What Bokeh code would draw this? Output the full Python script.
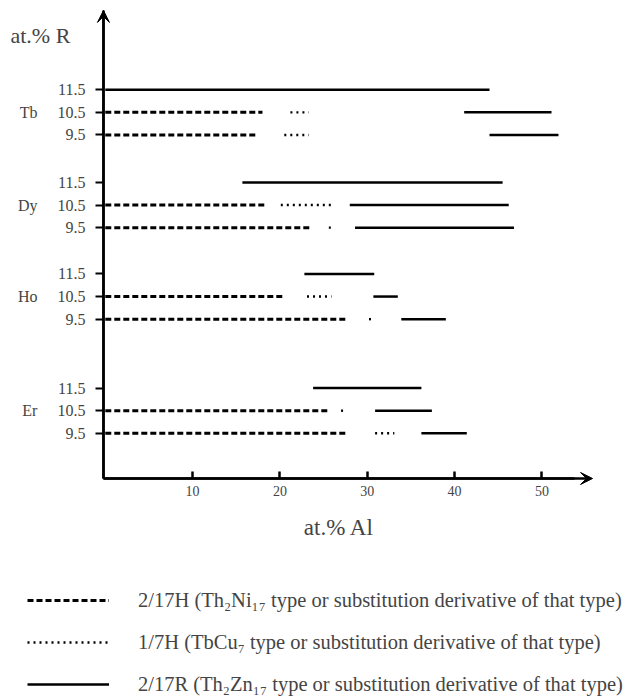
from bokeh.embed import file_html
from bokeh.models import (Arrow, ColumnDataSource, FixedTicker, Label, Legend,
                          LegendItem, LinearAxis, Range1d, VeeHead)
from bokeh.plotting import figure
from bokeh.resources import INLINE

FONT = "Liberation Serif"

# Rare earths and nominal R contents (at.%)
alloys = ["Tb", "Dy", "Ho", "Er"]
r_levels = [11.5, 10.5, 9.5]
r_labels = ["11.5", "10.5", "9.5"]
al_ticks = [10, 20, 30, 40, 50]

# 2/17H (Th2Ni17 type) homogeneity ranges in at.% Al
h217_alloy = ["Tb", "Tb", "Dy", "Dy", "Ho", "Ho", "Er", "Er"]
h217_r = [10.5, 9.5, 10.5, 9.5, 10.5, 9.5, 10.5, 9.5]
h217_from = [0, 0, 0, 0, 0, 0, 0, 0]
h217_to = [18.0, 17.4, 18.4, 23.5, 20.5, 27.5, 25.7, 27.6]

# 1/7H (TbCu7 type) ranges
h17_alloy = ["Tb", "Tb", "Dy", "Dy", "Ho", "Ho", "Er", "Er"]
h17_r = [10.5, 9.5, 10.5, 9.5, 10.5, 9.5, 10.5, 9.5]
h17_from = [21.2, 20.5, 20.1, 25.6, 23.1, 30.2, 27.0, 30.9]
h17_to = [23.3, 23.3, 26.0, 26.2, 25.9, 30.8, 27.6, 33.1]

# 2/17R (Th2Zn17 type) ranges
r217_alloy = ["Tb", "Tb", "Tb", "Dy", "Dy", "Dy", "Ho", "Ho", "Ho", "Er", "Er", "Er"]
r217_r = [11.5, 10.5, 9.5, 11.5, 10.5, 9.5, 11.5, 10.5, 9.5, 11.5, 10.5, 9.5]
r217_from = [0, 41.1, 44.0, 15.7, 28.0, 28.6, 22.8, 30.7, 33.9, 23.8, 30.9, 36.2]
r217_to = [44.0, 51.1, 51.9, 45.5, 46.2, 46.8, 30.8, 33.5, 39.0, 36.2, 37.4, 41.4]

legend_texts = [
    "2/17H (Th\u2082Ni\u2081\u2087 type or substitution derivative of that type)",
    "1/7H (TbCu\u2087 type or substitution derivative of that type)",
    "2/17R (Th\u2082Zn\u2081\u2087 type or substitution derivative of that type)",
]

# vertical layout: position of the 9.5 at.% R row of each band
band_base = {"Tb": 15.2, "Dy": 11.1, "Ho": 7.05, "Er": 2.0}


def row_y(alloy, r):
    return round(band_base[alloy] + (r - 9.5), 3)


def seg_source(alloy, r, lo, hi):
    ys = [row_y(a, c) for a, c in zip(alloy, r)]
    return ColumnDataSource(dict(x0=lo, x1=hi, y0=ys, y1=ys))


# the plot frame spans the whole page; axes sit at fixed data positions
X_AXIS_START = -0.21   # where the R axis stands
X_LABEL_END = 53.73    # x-axis extent used for centring its title
X_TIP = 55.8           # tip of the Al arrow
Y_TIP = 20.71          # tip of the R arrow

p = figure(width=643, height=698,
           x_range=Range1d(-12.0, 61.635), y_range=Range1d(-9.735, 21.15),
           x_axis_location=None, y_axis_location=None,
           output_backend="svg", toolbar_location=None, min_border=0)
p.outline_line_color = None
p.grid.visible = False
p.background_fill_color = "white"
p.border_fill_color = "white"

dash_kw = dict(line_color="black", line_width=3, line_dash="6 3")
dot_kw = dict(line_color="black", line_width=2.4, line_dash="2 4")
solid_kw = dict(line_color="black", line_width=2.5)

r_dash = p.segment("x0", "y0", "x1", "y1",
                   source=seg_source(h217_alloy, h217_r, h217_from, h217_to), **dash_kw)
r_dot = p.segment("x0", "y0", "x1", "y1",
                  source=seg_source(h17_alloy, h17_r, h17_from, h17_to), **dot_kw)
r_solid = p.segment("x0", "y0", "x1", "y1",
                    source=seg_source(r217_alloy, r217_r, r217_from, r217_to), **solid_kw)

# x axis (at.% Al)
xa = LinearAxis(fixed_location=0, bounds=(X_AXIS_START, X_LABEL_END),
                ticker=FixedTicker(ticks=al_ticks))
xa.major_tick_in = 7
xa.major_tick_out = 0
xa.minor_tick_line_color = None
xa.axis_line_width = 2.5
xa.major_tick_line_width = 2.5
xa.major_label_text_font = FONT
xa.major_label_text_font_size = "14px"
xa.major_label_standoff = 8
xa.axis_label = "at.% Al"
xa.axis_label_text_font = FONT
xa.axis_label_text_font_style = "normal"
xa.axis_label_text_font_size = "23px"
xa.axis_label_standoff = 15
p.add_layout(xa, "below")

# y axis: R content of each row
row_pos = [row_y(a, r) for a in alloys for r in r_levels]
row_txt = [t for a in alloys for t in r_labels]
ya = LinearAxis(fixed_location=X_AXIS_START, bounds=(0, Y_TIP),
                ticker=FixedTicker(ticks=row_pos),
                major_label_overrides=dict(zip(row_pos, row_txt)))
ya.major_tick_in = 0
ya.major_tick_out = 8
ya.minor_tick_line_color = None
ya.axis_line_width = 2.5
ya.major_tick_line_width = 2
ya.major_label_text_font = FONT
ya.major_label_text_font_size = "16px"
ya.major_label_standoff = 10
p.add_layout(ya, "left")

# second y axis carrying the rare-earth names
band_pos = [row_y(a, 10.5) for a in alloys]
ga = LinearAxis(fixed_location=X_AXIS_START, ticker=FixedTicker(ticks=band_pos),
                major_label_overrides=dict(zip(band_pos, alloys)))
ga.axis_line_color = None
ga.major_tick_line_color = None
ga.minor_tick_line_color = None
ga.major_tick_out = 0
ga.major_tick_in = 0
ga.major_label_standoff = 66
ga.major_label_text_font = FONT
ga.major_label_text_font_size = "16px"
p.add_layout(ga, "left")

# arrow heads on both axes
head = dict(size=12, fill_color="black", line_color="black", line_width=1)
p.add_layout(Arrow(end=VeeHead(**head), x_start=X_AXIS_START, y_start=0,
                   x_end=X_AXIS_START, y_end=Y_TIP, line_width=2.5, line_color="black"))
p.add_layout(Arrow(end=VeeHead(**head), x_start=X_AXIS_START, y_start=0,
                   x_end=X_TIP, y_end=0, line_width=2.5, line_color="black"))

p.add_layout(Label(x=-10.86, y=19.6, text="at.% R", text_font=FONT,
                   text_font_size="22px", text_baseline="alphabetic"))

legend = Legend(items=[LegendItem(label=legend_texts[0], renderers=[r_dash]),
                       LegendItem(label=legend_texts[1], renderers=[r_dot]),
                       LegendItem(label=legend_texts[2], renderers=[r_solid])],
                location=(27, 1), margin=0, padding=0, spacing=16,
                glyph_width=82, glyph_height=26, label_height=26, label_standoff=29,
                label_text_font=FONT, label_text_font_size="20.5px",
                border_line_color=None, background_fill_alpha=0)
p.add_layout(legend)

open("out.html", "w").write(file_html(p, INLINE))
